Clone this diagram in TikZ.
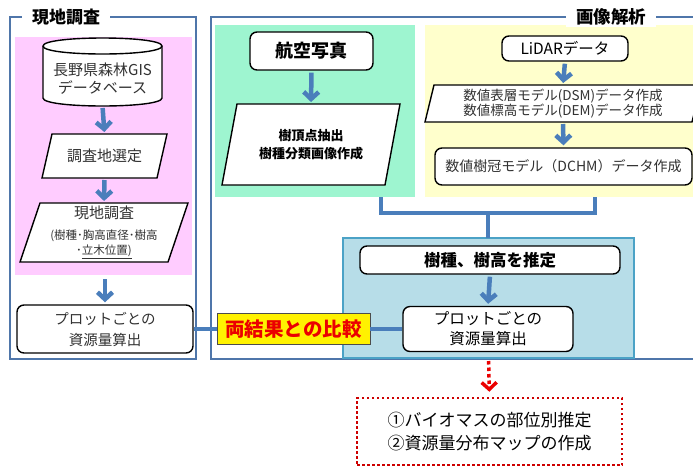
\documentclass[tikz,border=0pt]{standalone}
\usepackage{fontspec}
\setmainfont{Noto Sans CJK JP}
\usetikzlibrary{arrows.meta,calc}
\definecolor{frameblue}{RGB}{79,118,170}
\definecolor{arrowblue}{RGB}{74,126,187}
\definecolor{pinkbg}{RGB}{255,204,255}
\definecolor{greenbg}{RGB}{158,245,208}
\definecolor{yellowbg}{RGB}{255,255,204}
\definecolor{lbluebg}{RGB}{183,221,232}
\definecolor{tealline}{RGB}{75,162,198}
\definecolor{cmpred}{RGB}{235,0,0}
\definecolor{dotred}{RGB}{205,0,0}
\definecolor{txtgray}{RGB}{50,50,50}
\pgfdeclarelayer{back}\pgfdeclarelayer{mid}\pgfsetlayers{back,mid,main}
\newcommand\fsz[2]{\fontsize{#1pt}{#2pt}\selectfont}
\newcommand\drawpara[2]{\draw[parab] ($(#1.north west)+(#2,0)$) -- (#1.north east) -- ($(#1.south east)+(-#2,0)$) -- (#1.south west) -- cycle;}
\tikzset{
  frame/.style={draw=frameblue,line width=2pt},
  conn/.style={draw=arrowblue,line width=3.5pt},
  barrow/.style={draw=arrowblue,line width=4.5pt,-{Straight Barb[length=7pt,width=15pt]},shorten <=2pt,shorten >=2pt},
  region/.style={inner sep=0pt,outer sep=0pt},
  box/.style={draw,line width=1.4pt,rounded corners=7pt,fill=white,align=center,inner sep=0pt},
  ptext/.style={align=center,inner sep=0pt,outer sep=0pt},
  parab/.style={draw,line width=1.4pt,fill=white},
  title/.style={fill=white,inner xsep=10pt,inner ysep=2pt,font=\bfseries\fsz{17}{20}}
}
\begin{document}
\begin{tikzpicture}[x=1pt,y=-1pt]
\useasboundingbox (0,0) rectangle (693,467);
% regions
\begin{pgfonlayer}{back}
\fill[white] (0,0) rectangle (693,467);
\draw[frame] (10,17) rectangle (196,359);
\draw[frame] (700,17) -- (211,17) -- (211,359) -- (700,359);
\node[region,fill=pinkbg,minimum width=177pt,minimum height=238pt] (pink) at (103.5,156) {};
\node[region,fill=greenbg,minimum width=200pt,minimum height=172pt] (green) at (315,111) {};
\node[region,fill=yellowbg,minimum width=275pt,minimum height=172pt] (yellow) at (562.5,111) {};
\node[region,fill=lbluebg,draw=tealline,line width=2pt,minimum width=291pt,minimum height=120pt] (bz) at (488.5,298) {};
\end{pgfonlayer}
% titles
\node[title] (t1) at (66,17) {現地調査};
\node[title,font=\bfseries\fsz{17.5}{20}] (t2) at (611,17) {画像解析};
% left column
\node[ptext,minimum width=119pt,minimum height=54pt,font=\fsz{15}{18},text=txtgray] (cyl) at (102.5,79) {長野県森林GIS\\データベース};
\node[ptext,minimum width=125pt,minimum height=44pt,font=\fsz{15}{18},text=txtgray] (p1) at (104.5,156) {調査地選定};
\node[ptext,minimum width=168pt,minimum height=59pt,font=\fsz{11.5}{14},text=txtgray] (p2) at (104,232.5) {{\fsz{15}{18}現地調査}\\[7pt](樹種･胸高直径･樹高\\[1pt]･\underline{立木位置)}};
\node[box,minimum width=176pt,minimum height=48pt,font=\fsz{14.5}{21},text=txtgray] (lb) at (105,329) {プロットごとの\\資源量算出};
% green column
\node[box,minimum width=123pt,minimum height=38pt,font=\bfseries\fsz{18}{20}] (aer) at (311.5,51) {航空写真};
\node[ptext,minimum width=178pt,minimum height=81pt,font=\bfseries\fsz{13}{18}] (p3) at (311,144.5) {樹頂点抽出\\樹種分類画像作成};
% yellow column
\node[box,minimum width=126pt,minimum height=25pt,font=\fsz{15.5}{18}] (lidar) at (565,48.5) {LiDARデータ};
\node[ptext,minimum width=276pt,minimum height=37pt,font=\fsz{13.5}{14.5},text=txtgray] (p4) at (563,103.5) {数値表層モデル(DSM)データ作成\\数値標高モデル(DEM)データ作成};
\node[box,minimum width=257pt,minimum height=37pt,font=\fsz{14}{18},text=txtgray] (dchm) at (563.5,166.5) {数値樹冠モデル（DCHM）データ作成};
% blue area
\node[box,minimum width=260pt,minimum height=28pt,font=\bfseries\fsz{16.5}{18}] (sp) at (490,260) {樹種、樹高を推定};
\node[box,minimum width=170pt,minimum height=45pt,font=\fsz{15.5}{20}] (rp) at (488,329) {プロットごとの\\資源量算出};
% comparison label
\node[draw=black!70,line width=0.8pt,fill=yellow,inner sep=0pt,minimum width=153pt,minimum height=31pt,text=cmpred,font=\bfseries\fsz{19.5}{22}] (cmp) at (293.5,329) {両結果との比較};
% result box
\node[draw=dotred,line width=2.5pt,dash pattern=on 2.5pt off 2.5pt,fill=white,align=center,inner sep=0pt,minimum width=265pt,minimum height=67pt,font=\fsz{17}{23}] (rb) at (489.5,431.5) {①バイオマスの部位別推定\\②資源量分布マップの作成};
% shapes behind text
\begin{pgfonlayer}{mid}
\draw[parab] (43,46) -- (43,98) .. controls (43,108.67) and (162,108.67) .. (162,98) -- (162,46) .. controls (162,35.33) and (43,35.33) .. (43,46) -- cycle;
\draw[line width=1.4pt] (43,46) .. controls (43,56.67) and (162,56.67) .. (162,46);
\drawpara{p1}{10}
\drawpara{p2}{20}
\drawpara{p3}{15}
\drawpara{p4}{9}
\end{pgfonlayer}
% arrows
\draw[barrow] (cyl.south) -- (p1.north);
\draw[barrow] (p1.south) -- (p2.north);
\draw[barrow,shorten <=4pt] (pink.south -| lb.north) -- (lb.north);
\draw[barrow] (aer.south) -- (p3.north);
\draw[barrow] (lidar.south) -- (p4.north);
\draw[barrow] (p4.south) -- (dchm.north);
\draw[barrow] (sp.south) -- (rp.north);
% connectors
\coordinate (j1) at (381,213);
\coordinate (j2) at (595,213);
\coordinate (jm) at (488,213);
\draw[conn] (green.south -| j1) -- (j1) -- (j2) -- (yellow.south -| j2);
\draw[conn] (jm) -- (bz.north -| jm);
\draw[conn] (lb.east) -- (cmp.west);
\draw[conn] (cmp.east) -- (rp.west);
\draw[draw=cmpred,line width=3.5pt,dash pattern=on 3.5pt off 3pt,-{Straight Barb[length=7pt,width=15pt]},shorten <=3pt,shorten >=5pt] (bz.south) -- (rb.north);
\end{tikzpicture}
\end{document}
